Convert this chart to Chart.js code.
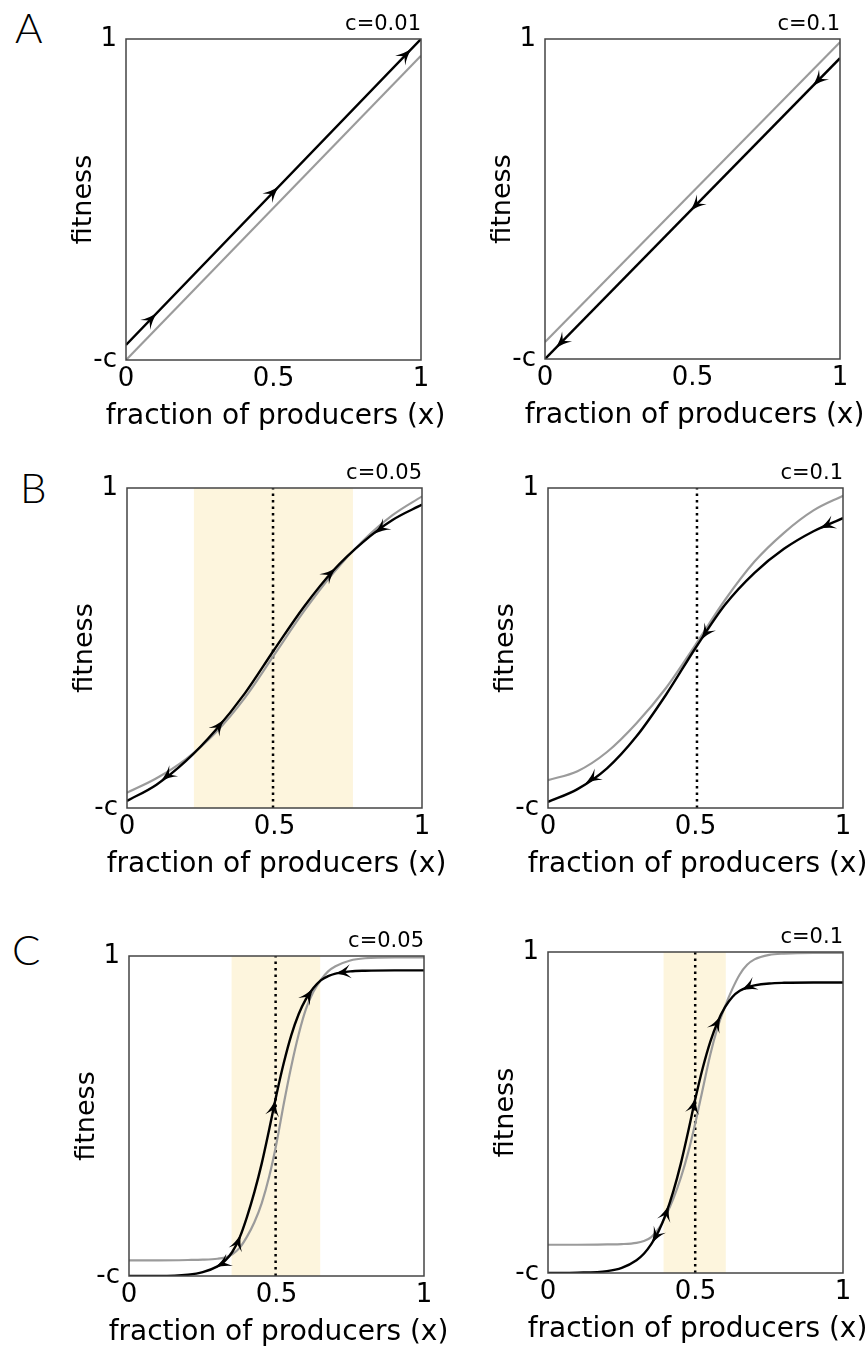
<!DOCTYPE html>
<html>
<head>
<meta charset="utf-8">
<script src="https://cdn.jsdelivr.net/npm/chart.js@4.4.0/dist/chart.umd.min.js"></script>
<style>
    body { margin: 0; background: #fff; width: 867px; height: 1349px; position: relative; overflow: hidden; }
    canvas { position: absolute; }
    .lbl { position: absolute; font: 300 42px 'Lato', 'DejaVu Sans', sans-serif; line-height: 1; color: #000; }
</style>
</head>
<body>
<div class="lbl" style="left:15px;top:6px">A</div>
<div class="lbl" style="left:20px;top:466px">B</div>
<div class="lbl" style="left:12px;top:928px">C</div>
<canvas id="aL"></canvas>
<canvas id="aR"></canvas>
<canvas id="bL"></canvas>
<canvas id="bR"></canvas>
<canvas id="cL"></canvas>
<canvas id="cR"></canvas>
<script>
// ---- datos ----
const xTicks = [0, 0.5, 1];
const yTicks = [0, 1];
const yTickLabels = ['-c', '1'];
const costLabels = ['c=0.01', 'c=0.1', 'c=0.05', 'c=0.1', 'c=0.05', 'c=0.1'];
const xTitle = 'fraction of producers (x)';
const yTitle = 'fitness';

// fila A (lineal)
const xA = [0, 1];
const grayA1 = [0.0, 0.948];
const blackA1 = [0.047, 1.0];
const grayA2 = [0.053, 0.99];
const blackA2 = [0.0, 0.94];

// fila B
const xB = [0, 0.1, 0.2, 0.3, 0.4, 0.5, 0.6, 0.7, 0.8, 0.9, 1];
const grayB1 = [0.048, 0.093, 0.153, 0.235, 0.345, 0.48, 0.615, 0.735, 0.835, 0.915, 0.974];
const blackB1 = [0.022, 0.073, 0.147, 0.243, 0.359, 0.496, 0.629, 0.743, 0.831, 0.90, 0.948];
const grayB2 = [0.087, 0.115, 0.175, 0.265, 0.375, 0.51, 0.65, 0.77, 0.86, 0.93, 0.976];
const blackB2 = [0.019, 0.059, 0.124, 0.224, 0.354, 0.50, 0.635, 0.735, 0.81, 0.865, 0.906];

// fila C
const xC = [0, 0.1, 0.2, 0.25, 0.3, 0.325, 0.35, 0.375, 0.4, 0.425, 0.45, 0.475, 0.5, 0.525, 0.55, 0.575, 0.6, 0.625, 0.65, 0.675, 0.7, 0.75, 0.8, 0.9, 1];
const grayC1 = [0.049, 0.049, 0.05, 0.051, 0.054, 0.058, 0.068, 0.088, 0.123, 0.168, 0.228, 0.31, 0.415, 0.54, 0.655, 0.755, 0.835, 0.888, 0.925, 0.952, 0.968, 0.986, 0.993, 0.996, 0.996];
const blackC1 = [0.0, 0.0, 0.004, 0.012, 0.03, 0.047, 0.075, 0.12, 0.185, 0.262, 0.352, 0.457, 0.567, 0.667, 0.752, 0.818, 0.866, 0.90, 0.924, 0.937, 0.945, 0.952, 0.954, 0.955, 0.955];
const grayC2 = [0.088, 0.088, 0.089, 0.09, 0.094, 0.10, 0.112, 0.138, 0.18, 0.232, 0.296, 0.375, 0.47, 0.575, 0.68, 0.765, 0.83, 0.885, 0.93, 0.96, 0.977, 0.991, 0.995, 0.997, 0.997];
const blackC2 = [0.0, 0.001, 0.006, 0.016, 0.04, 0.06, 0.09, 0.13, 0.185, 0.255, 0.34, 0.44, 0.545, 0.64, 0.72, 0.782, 0.828, 0.86, 0.879, 0.89, 0.896, 0.902, 0.904, 0.905, 0.905];

// flechas: [x, sentido]
const arrowsA1 = [[0.096, 1], [0.51, 1], [0.96, 1]];
const arrowsA2 = [[0.915, -1], [0.50, -1], [0.044, -1]];
const arrowsB1 = [[0.124, -1], [0.322, 1], [0.70, 1], [0.847, -1]];
const arrowsB2 = [[0.136, -1], [0.525, -1], [0.93, -1]];
const arrowsC1 = [[0.302, -1], [0.375, 1], [0.494, 1], [0.618, 1], [0.708, -1]];
const arrowsC2 = [[0.357, -1], [0.406, 1], [0.498, 1], [0.58, 1], [0.664, -1]];

// franjas y linea punteada
const bandB1 = [0.226, 0.766];
const bandC1 = [0.347, 0.649];
const bandC2 = [0.391, 0.603];
const midB1 = 0.495, midB2 = 0.505, midC1 = 0.497, midC2 = 0.499;

// ---- layout ----
const FONT = "'DejaVu Sans', sans-serif";
const PAD_L = 100, PAD_T = 40, PAD_R = 30, PAD_B = 90;

function pts(xs, ys) {
    return xs.map((x, i) => ({ x: x, y: ys[i] }));
}

function interp(xs, ys, x) {
    for (let i = 0; i < xs.length - 1; i++) {
        if (x >= xs[i] && x <= xs[i + 1]) {
            const t = (x - xs[i]) / (xs[i + 1] - xs[i]);
            return ys[i] + t * (ys[i + 1] - ys[i]);
        }
    }
    return ys[ys.length - 1];
}

const panelMarks = {
    id: 'panelMarks',
    afterDatasetsDraw(chart, args, opts) {
        const ctx = chart.ctx;
        const xs = chart.scales.x, ys = chart.scales.y;
        ctx.save();
        ctx.fillStyle = '#000';
        opts.arrows.forEach(a => {
            const x1 = a[0], x2 = a[0] + a[1] * 0.005;
            const px = xs.getPixelForValue(x1), py = ys.getPixelForValue(interp(opts.xs, opts.ys, x1));
            const qx = xs.getPixelForValue(x2), qy = ys.getPixelForValue(interp(opts.xs, opts.ys, x2));
            const ang = Math.atan2(qy - py, qx - px);
            ctx.save();
            ctx.translate(px, py);
            ctx.rotate(ang);
            ctx.beginPath();
            ctx.moveTo(4, 0);
            ctx.quadraticCurveTo(-6, -2, -13, -7);
            ctx.lineTo(-7, 0);
            ctx.lineTo(-13, 7);
            ctx.quadraticCurveTo(-6, 2, 4, 0);
            ctx.closePath();
            ctx.fill();
            ctx.restore();
        });
        ctx.restore();
    },
    afterDraw(chart, args, opts) {
        const ctx = chart.ctx;
        const a = chart.chartArea;
        ctx.save();
        // marco
        ctx.strokeStyle = '#444';
        ctx.lineWidth = 1.5;
        ctx.strokeRect(a.left, a.top, a.right - a.left, a.bottom - a.top);
        // costo
        ctx.fillStyle = '#000';
        ctx.font = '21px ' + FONT;
        ctx.textAlign = 'right';
        ctx.textBaseline = 'alphabetic';
        ctx.fillText(opts.cost, a.right, a.top - 9);
        // titulo eje x (sin maxWidth)
        ctx.font = '28px ' + FONT;
        ctx.textAlign = 'center';
        ctx.fillText(xTitle, (a.left + a.right) / 2 + 2, a.bottom + 64);
        ctx.restore();
    }
};

function makePanel(id, box, xs, gray, black, arrows, cost, band, mid) {
    const cv = document.getElementById(id);
    const w = box[2] + PAD_L + PAD_R, h = box[3] + PAD_T + PAD_B;
    cv.width = w; cv.height = h;
    cv.style.left = (box[0] - PAD_L) + 'px';
    cv.style.top = (box[1] - PAD_T) + 'px';
    cv.style.width = w + 'px';
    cv.style.height = h + 'px';

    const datasets = [
        { data: pts(xs, black), borderColor: '#000', borderWidth: 2.4, pointRadius: 0, cubicInterpolationMode: 'monotone', order: 1 },
        { data: pts(xs, gray), borderColor: '#9b9b9b', borderWidth: 2.2, pointRadius: 0, cubicInterpolationMode: 'monotone', order: 2 }
    ];
    if (mid !== undefined) {
        datasets.push({ data: [{ x: mid, y: 0 }, { x: mid, y: 1 }], borderColor: '#000', borderWidth: 2.5, borderDash: [2.5, 4], pointRadius: 0, order: 3 });
    }
    if (band) {
        datasets.push({ data: [{ x: band[0], y: 1 }, { x: band[1], y: 1 }], borderColor: 'rgba(0,0,0,0)', borderWidth: 0, backgroundColor: '#fdf5dd', fill: 'start', pointRadius: 0, order: 4 });
    }

    new Chart(cv.getContext('2d'), {
        type: 'line',
        data: { datasets: datasets },
        options: {
            responsive: false,
            animation: false,
            events: [],
            layout: { padding: { left: 0, top: PAD_T, right: PAD_R, bottom: 0 } },
            scales: {
                x: {
                    type: 'linear', min: 0, max: 1,
                    afterFit: s => { s.height = PAD_B; },
                    afterBuildTicks: s => { s.ticks = xTicks.map(v => ({ value: v })); },
                    grid: { display: false, drawTicks: false },
                    border: { display: false },
                    ticks: { autoSkip: false, maxRotation: 0, padding: 4, color: '#000', font: { family: FONT, size: 26 },
                        callback: v => String(v) }
                },
                y: {
                    type: 'linear', min: 0, max: 1,
                    afterFit: s => { s.width = PAD_L; },
                    afterBuildTicks: s => { s.ticks = yTicks.map(v => ({ value: v })); },
                    grid: { display: false, drawTicks: false },
                    border: { display: false },
                    ticks: { padding: 9, color: '#000', font: { family: FONT, size: 26 },
                        callback: v => yTickLabels[yTicks.indexOf(v)] },
                    title: { display: true, text: yTitle, color: '#000', font: { family: FONT, size: 27 }, padding: { top: 42, bottom: 0 } }
                }
            },
            plugins: {
                legend: { display: false },
                tooltip: { enabled: false },
                panelMarks: { arrows: arrows, xs: xs, ys: black, cost: cost }
            }
        },
        plugins: [panelMarks]
    });
}

window.onload = function () {
    makePanel('aL', [126, 39, 295, 321], xA, grayA1, blackA1, arrowsA1, costLabels[0]);
    makePanel('aR', [545, 39, 295, 320], xA, grayA2, blackA2, arrowsA2, costLabels[1]);
    makePanel('bL', [127, 488, 295, 320], xB, grayB1, blackB1, arrowsB1, costLabels[2], bandB1, midB1);
    makePanel('bR', [548, 488, 295, 320], xB, grayB2, blackB2, arrowsB2, costLabels[3], null, midB2);
    makePanel('cL', [129, 956, 295, 320], xC, grayC1, blackC1, arrowsC1, costLabels[4], bandC1, midC1);
    makePanel('cR', [548, 952, 295, 321], xC, grayC2, blackC2, arrowsC2, costLabels[5], bandC2, midC2);
};
</script>
</body>
</html>
